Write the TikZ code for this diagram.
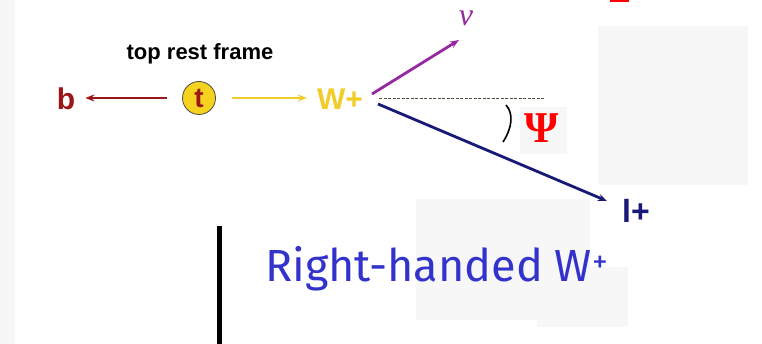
\documentclass[tikz,border=0pt]{standalone}
\usepackage{fontspec}
\setmainfont{Liberation Sans}
\newfontfamily\handfont{Fira Sans}
\newfontfamily\serifgreek{Liberation Serif}
\usetikzlibrary{arrows.meta}
\definecolor{darkred}{RGB}{155,22,22}
\definecolor{tyellow}{RGB}{245,210,30}
\definecolor{wyellow}{RGB}{240,205,40}
\definecolor{nupurple}{RGB}{150,40,160}
\definecolor{navy}{RGB}{25,25,120}
\definecolor{handblue}{RGB}{51,51,204}
\definecolor{panel}{RGB}{247,247,247}
\definecolor{dashgray}{RGB}{80,80,60}
\begin{document}
\begin{tikzpicture}[x=1pt,y=-1pt,
  lab/.style={font=\bfseries\fontsize{30}{30}\selectfont, inner sep=0pt},
  tip/.style={-{Stealth[length=9pt,width=7pt]}}]
\useasboundingbox (0,0) rectangle (762,344);
\fill[white] (0,0) rectangle (762,344);
\fill[panel] (0,0) rectangle (15,344);
\fill[panel] (598,26) rectangle (748,185);
\fill[panel] (416,199) rectangle (590,320);
\fill[panel] (537,267) rectangle (628,327);
\fill[panel] (520,107) rectangle (567,154);
\fill[red] (610,0) rectangle (629,2.5);

\node[font=\bfseries\fontsize{22}{22}\selectfont, inner sep=0pt] (title) at (200,54) {top rest frame};
\node[lab, text=darkred] (b) at (66,99) {b};
\node[circle, draw=black!70, fill=tyellow, line width=0.8pt, minimum size=33pt, inner sep=0pt,
      font=\bfseries\fontsize{28}{28}\selectfont, text=darkred] (t) at (199,98) {t};
\node[lab, text=wyellow] (W) at (340,99) {W+};
\node[anchor=base, inner sep=0pt, text=nupurple, font=\serifgreek\itshape\fontsize{32}{32}\selectfont] (nu) at (466,26) {ν};
\node[lab, text=navy, font=\bfseries\fontsize{32}{32}\selectfont] (lp) at (636,211) {l+};
\node[inner sep=0pt, text=red, font=\serifgreek\bfseries\fontsize{44}{44}\selectfont] (psi) at (542,128) {Ψ};

\coordinate (vp) at (372,94);
\coordinate (vd) at (379,98);
\coordinate (vn) at (378,104);
\coordinate (nuend) at (459,40);
\coordinate (dashend) at (545,98);
\coordinate (lend) at (607,201);

\draw[darkred, line width=2.4pt, tip, shorten <=15.5pt, shorten >=10pt] (t.west) -- (b.east |- t.west);
\draw[wyellow, line width=2pt, tip, shorten <=16.5pt, shorten >=10pt] (t.east) -- (W.west |- t.east);
\draw[nupurple, line width=2.8pt, tip] (vp) -- (nuend);
\draw[dashgray, line width=0.8pt, dash pattern=on 3pt off 1.5pt] (vd) -- (dashend);
\draw[navy, line width=2.8pt, tip] (vn) -- (lend);
\draw[line width=1.6pt] (506,105) .. controls (514,114) and (512,128) .. (503,142);

\draw[line width=4.5pt] (219.5,226) -- (219.5,344);
\node[anchor=base west, inner sep=0pt, text=handblue, font=\handfont\fontsize{45}{45}\selectfont] (rh) at (265,282) {Right-handed W\textsuperscript{+}};
\end{tikzpicture}
\end{document}
